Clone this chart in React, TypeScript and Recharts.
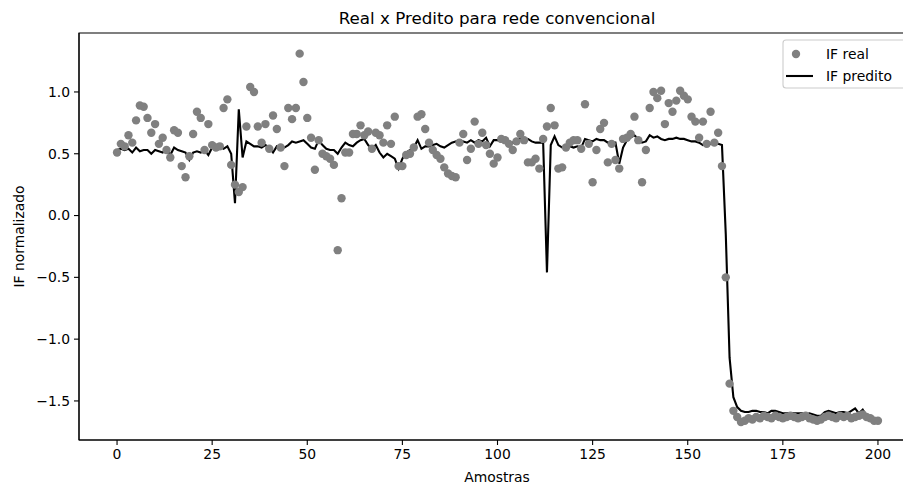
import { ComposedChart, Scatter, Line, XAxis, YAxis, ReferenceArea } from 'recharts'

const titulo = 'Real x Predito para rede convencional'
const rotuloX = 'Amostras'
const rotuloY = 'IF normalizado'
const nomeReal = 'IF real'
const nomePredito = 'IF predito'

const ifReal = [
  0.51, 0.58, 0.56, 0.65, 0.59, 0.77, 0.89, 0.88, 0.79, 0.67,
  0.74, 0.58, 0.63, 0.53, 0.47, 0.69, 0.67, 0.4, 0.31, 0.48,
  0.66, 0.84, 0.79, 0.53, 0.74, 0.57, 0.55, 0.56, 0.87, 0.94,
  0.41, 0.25, 0.19, 0.23, 0.72, 1.04, 1.0, 0.72, 0.59, 0.74,
  0.54, 0.81, 0.7, 0.55, 0.4, 0.87, 0.78, 0.87, 1.31, 1.08,
  0.79, 0.63, 0.37, 0.61, 0.5, 0.48, 0.46, 0.41, -0.28, 0.14,
  0.51, 0.51, 0.66, 0.66, 0.73, 0.65, 0.68, 0.54, 0.67, 0.65,
  0.59, 0.73, 0.58, 0.8, 0.4, 0.4, 0.49, 0.5, 0.55, 0.8,
  0.82, 0.7, 0.59, 0.53, 0.49, 0.46, 0.39, 0.34, 0.32, 0.31,
  0.59, 0.66, 0.45, 0.54, 0.76, 0.58, 0.67, 0.57, 0.5, 0.42,
  0.47, 0.62, 0.61, 0.58, 0.53, 0.6, 0.66, 0.61, 0.43, 0.43,
  0.46, 0.38, 0.62, 0.72, 0.87, 0.73, 0.38, 0.39, 0.55, 0.59,
  0.61, 0.61, 0.54, 0.9, 0.58, 0.27, 0.53, 0.7, 0.75, 0.43,
  0.58, 0.45, 0.38, 0.62, 0.63, 0.66, 0.8, 0.61, 0.27, 0.53,
  0.87, 1.0, 0.95, 1.01, 0.74, 0.91, 0.84, 0.93, 1.01, 0.97,
  0.94, 0.8, 0.76, 0.63, 0.76, 0.58, 0.84, 0.59, 0.67, 0.4,
  -0.5, -1.36, -1.58, -1.63, -1.67, -1.66, -1.64, -1.65, -1.63, -1.64,
  -1.62, -1.63, -1.64, -1.62, -1.63, -1.64, -1.63, -1.62, -1.63, -1.64,
  -1.63, -1.62, -1.64, -1.65, -1.66, -1.65, -1.63, -1.62, -1.63, -1.64,
  -1.62, -1.63, -1.62, -1.64, -1.63, -1.62, -1.61, -1.63, -1.64, -1.66,
  -1.66,
]

const ifPredito = [
  0.53, 0.54, 0.53, 0.54, 0.51, 0.55, 0.52, 0.53, 0.53, 0.5,
  0.53, 0.52, 0.51, 0.54, 0.49, 0.55, 0.53, 0.52, 0.51, 0.45,
  0.51, 0.52, 0.51, 0.53, 0.49, 0.55, 0.54, 0.56, 0.54, 0.56,
  0.5, 0.1, 0.86, 0.47, 0.6, 0.58, 0.56, 0.56, 0.55, 0.57,
  0.55, 0.51, 0.56, 0.55, 0.55, 0.57, 0.6, 0.59, 0.6, 0.61,
  0.58, 0.55, 0.54, 0.61, 0.57, 0.54, 0.53, 0.53, 0.5, 0.55,
  0.59, 0.57, 0.56, 0.59, 0.61, 0.62, 0.57, 0.54, 0.57, 0.51,
  0.47, 0.5, 0.48, 0.46, 0.38, 0.46, 0.51, 0.53, 0.55, 0.61,
  0.54, 0.56, 0.56, 0.57, 0.58, 0.56, 0.55, 0.57, 0.59, 0.6,
  0.61, 0.6, 0.59, 0.61, 0.59, 0.61, 0.6, 0.63, 0.56, 0.61,
  0.61, 0.6, 0.6, 0.59, 0.59, 0.58, 0.63, 0.6, 0.62, 0.6,
  0.59, 0.59, 0.59, -0.46, 0.57, 0.64, 0.57, 0.55, 0.55, 0.56,
  0.55, 0.56, 0.55, 0.62, 0.61, 0.6, 0.62, 0.61, 0.61, 0.59,
  0.59, 0.59, 0.42, 0.55, 0.61, 0.63, 0.65, 0.62, 0.59, 0.6,
  0.65, 0.63, 0.64, 0.62, 0.61, 0.62, 0.62, 0.63, 0.62, 0.62,
  0.61, 0.6, 0.6, 0.59, 0.57, 0.58, 0.58, 0.58, 0.58, 0.57,
  -0.15, -1.15, -1.47, -1.55, -1.58, -1.59, -1.59, -1.58, -1.58, -1.59,
  -1.59, -1.6, -1.58, -1.58, -1.59, -1.6, -1.6, -1.6, -1.6, -1.6,
  -1.6, -1.61, -1.6, -1.61, -1.62, -1.62, -1.59, -1.58, -1.59, -1.6,
  -1.59, -1.59, -1.6, -1.58, -1.56, -1.6, -1.57, -1.62, -1.65, -1.64,
  -1.65,
]

const xTicks = [0, 25, 50, 75, 100, 125, 150, 175, 200]
const yTicks = [-1.5, -1.0, -0.5, 0.0, 0.5, 1.0]

const xDomain = [-10, 210]
const yDomain = [-1.816, 1.477]

const data = ifReal.map((v, i) => ({ amostra: i, real: v, predito: ifPredito[i] }))

const font = '"DejaVu Sans", sans-serif'
const tickStyle = { fontSize: 13.9, fill: '#000', fontFamily: font }

const fmtY = (v: number) => (v < 0 ? '\u2212' : '') + Math.abs(v).toFixed(1)

export default function App() {
  // fixed box at the page origin: no body margin, no scrollbars
  return (
    <div
      style={{
        position: 'fixed',
        left: 0,
        top: 0,
        width: 903,
        height: 486,
        overflow: 'hidden',
        background: '#fff',
      }}
    >
      <ComposedChart width={920} height={486} data={data} margin={{ top: 33, right: 4, bottom: 0, left: 0 }}>
        <XAxis
          dataKey="amostra"
          type="number"
          domain={xDomain}
          ticks={xTicks}
          allowDataOverflow
          tick={tickStyle}
          tickSize={5}
          tickMargin={4}
          height={46}
          axisLine={{ stroke: '#000', strokeWidth: 1.1 }}
          tickLine={{ stroke: '#000', strokeWidth: 1.1 }}
        />
        <YAxis
          type="number"
          domain={yDomain}
          ticks={yTicks}
          allowDataOverflow
          tickFormatter={fmtY}
          tick={tickStyle}
          tickSize={5}
          tickMargin={4}
          width={79}
          axisLine={{ stroke: '#000', strokeWidth: 1.1 }}
          tickLine={{ stroke: '#000', strokeWidth: 1.1 }}
        />
        <ReferenceArea
          x1={xDomain[0]}
          x2={xDomain[1]}
          y1={yDomain[0]}
          y2={yDomain[1]}
          fill="none"
          fillOpacity={0}
          stroke="#000"
          strokeWidth={1.1}
        />
        <Scatter
          name={nomeReal}
          dataKey="real"
          fill="#808080"
          isAnimationActive={false}
          shape={(p: any) => <circle cx={p.cx} cy={p.cy} r={4.2} fill="#808080" />}
        />
        <Line
          name={nomePredito}
          dataKey="predito"
          type="linear"
          stroke="#000"
          strokeWidth={2.1}
          dot={false}
          activeDot={false}
          isAnimationActive={false}
        />
      </ComposedChart>
      <svg
        width={903}
        height={486}
        style={{ position: 'absolute', left: 0, top: 0, pointerEvents: 'none', fontFamily: font }}
      >
        <text x={497} y={24} textAnchor="middle" fontSize={16.7} fill="#000">
          {titulo}
        </text>
        <text x={497} y={482} textAnchor="middle" fontSize={13.9} fill="#000">
          {rotuloX}
        </text>
        <text transform="translate(24,236.5) rotate(-90)" textAnchor="middle" fontSize={13.9} fill="#000">
          {rotuloY}
        </text>
        <rect x={783} y={40} width={126} height={48} rx={3} fill="#fff" fillOpacity={0.8} stroke="#cccccc" strokeWidth={1.1} />
        <circle cx={796} cy={54} r={4.2} fill="#808080" />
        <text x={826} y={59} fontSize={13.9} fill="#000">
          {nomeReal}
        </text>
        <line x1={786} y1={76} x2={813} y2={76} stroke="#000" strokeWidth={2.1} />
        <text x={826} y={81} fontSize={13.9} fill="#000">
          {nomePredito}
        </text>
      </svg>
    </div>
  )
}
